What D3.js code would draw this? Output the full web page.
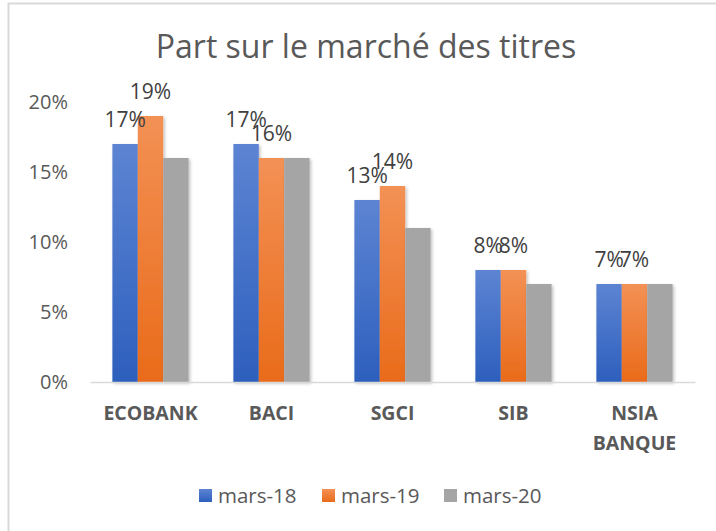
<!DOCTYPE html>
<html>
<head>
<meta charset="utf-8">
<script src="https://cdn.jsdelivr.net/npm/d3@7"></script>
<style>
  body { margin: 0; background: #fff; }
  svg text { font-family: "Open Sans", "DejaVu Sans", sans-serif; }
</style>
</head>
<body>
<svg id="chart" width="716" height="531"></svg>
<script>
var categories = ['ECOBANK', 'BACI', 'SGCI', 'SIB', 'NSIA BANQUE'];
var series = ['mars-18', 'mars-19', 'mars-20'];
var mars18 = [0.17, 0.17, 0.13, 0.08, 0.07];
var mars19 = [0.19, 0.16, 0.14, 0.08, 0.07];
var mars20 = [0.16, 0.16, 0.11, 0.07, 0.07];
var labelledSeries = ['mars-18', 'mars-19'];
var yTicks = [0, 0.05, 0.10, 0.15, 0.20];

var values = [mars18, mars19, mars20];
var colors = {'mars-18': ['#5d84d3', '#2d5fbd'], 'mars-19': ['#f39155', '#e96b1a'], 'mars-20': ['#a5a5a5', '#a5a5a5']};

function drawChart() {
    let svg = d3.select('#chart');
    var defs = svg.append('defs');

    series.forEach(function(s, i) {
        var g = defs.append('linearGradient')
            .attr('id', 'grad' + i)
            .attr('x1', 0).attr('y1', 0).attr('x2', 0).attr('y2', 1);
        g.append('stop').attr('offset', '0%').attr('stop-color', colors[s][0]);
        g.append('stop').attr('offset', '100%').attr('stop-color', colors[s][1]);
    });
    var shadow = defs.append('filter').attr('id', 'shadow')
        .attr('x', '-20%').attr('y', '-10%').attr('width', '150%').attr('height', '130%');
    shadow.append('feDropShadow')
        .attr('dx', 1.5).attr('dy', 1.5).attr('stdDeviation', 1.5)
        .attr('flood-color', '#000').attr('flood-opacity', 0.25);

    // chart border (only top / left visible in the crop)
    svg.append('rect')
        .attr('x', 8.5).attr('y', 3.5)
        .attr('width', 760).attr('height', 600)
        .style('fill', 'none')
        .style('stroke', '#d9d9d9')
        .style('stroke-width', '2px');

    svg.append('text')
        .attr('x', 366).attr('y', 58)
        .attr('text-anchor', 'middle')
        .style('font-size', '32px')
        .style('fill', '#595959')
        .text('Part sur le marché des titres');

    var x = d3.scaleBand()
            .domain(categories)
            .range([90, 695])
            .paddingInner(0.37)
            .paddingOuter(0.185);
    var xs = d3.scaleBand()
            .domain(series)
            .range([0, x.bandwidth()]);
    var y = d3.scaleLinear()
            .domain([0, 0.20])
            .range([382, 102]);

    // y axis labels
    var yAxis = svg.append('g')
        .attr('transform', 'translate(68,0)')
        .call(d3.axisLeft(y).tickValues(yTicks).tickFormat(d3.format('.0%')).tickSize(0));
    yAxis.select('.domain').remove();
    yAxis.selectAll('text')
        .attr('x', 0)
        .style('font-size', '20px')
        .style('fill', '#595959');

    // bars
    series.forEach(function(s, si) {
        svg.append('g')
            .selectAll('rect')
            .data(values[si])
            .join('rect')
            .attr('x', function(d, i) { return x(categories[i]) + xs(s); })
            .attr('y', function(d) { return y(d); })
            .attr('width', xs.bandwidth())
            .attr('height', function(d) { return y(0) - y(d); })
            .attr('filter', 'url(#shadow)')
            .style('fill', 'url(#grad' + si + ')');
    });

    // x axis line
    var xAxis = svg.append('g')
        .attr('transform', 'translate(0,' + y(0) + ')')
        .call(d3.axisBottom(x).tickSize(0).tickFormat(''));
    xAxis.select('.domain')
        .style('stroke', '#d9d9d9')
        .style('stroke-width', '1.5px');

    // category labels (wrapped)
    categories.forEach(function(c) {
        var words = c.split(' ');
        var t = svg.append('text')
            .attr('text-anchor', 'middle')
            .attr('x', x(c) + x.bandwidth() / 2)
            .attr('y', 420)
            .style('font-size', '19.5px')
            .style('font-weight', 'bold')
            .style('fill', '#595959');
        words.forEach(function(w, wi) {
            t.append('tspan')
                .attr('x', x(c) + x.bandwidth() / 2)
                .attr('dy', wi === 0 ? 0 : 30)
                .text(w);
        });
    });

    // data labels
    series.forEach(function(s, si) {
        if (labelledSeries.indexOf(s) < 0) return;
        svg.append('g')
            .selectAll('text')
            .data(values[si])
            .join('text')
            .attr('text-anchor', 'middle')
            .attr('x', function(d, i) { return x(categories[i]) + xs(s) + xs.bandwidth() / 2; })
            .attr('y', function(d) { return y(d) - 17; })
            .style('font-size', '21px')
            .style('fill', '#404040')
            .text(function(d) { return d3.format('.0%')(d); });
    });

    // legend
    var legendX = [199, 322, 444];
    var legend = svg.append('g');
    series.forEach(function(s, si) {
        legend.append('rect')
            .attr('x', legendX[si]).attr('y', 489)
            .attr('width', 13).attr('height', 13)
            .style('fill', 'url(#grad' + si + ')');
        legend.append('text')
            .attr('x', legendX[si] + 19).attr('y', 503)
            .style('font-size', '20.5px')
            .style('fill', '#595959')
            .text(s);
    });
}

drawChart();
</script>
</body>
</html>
